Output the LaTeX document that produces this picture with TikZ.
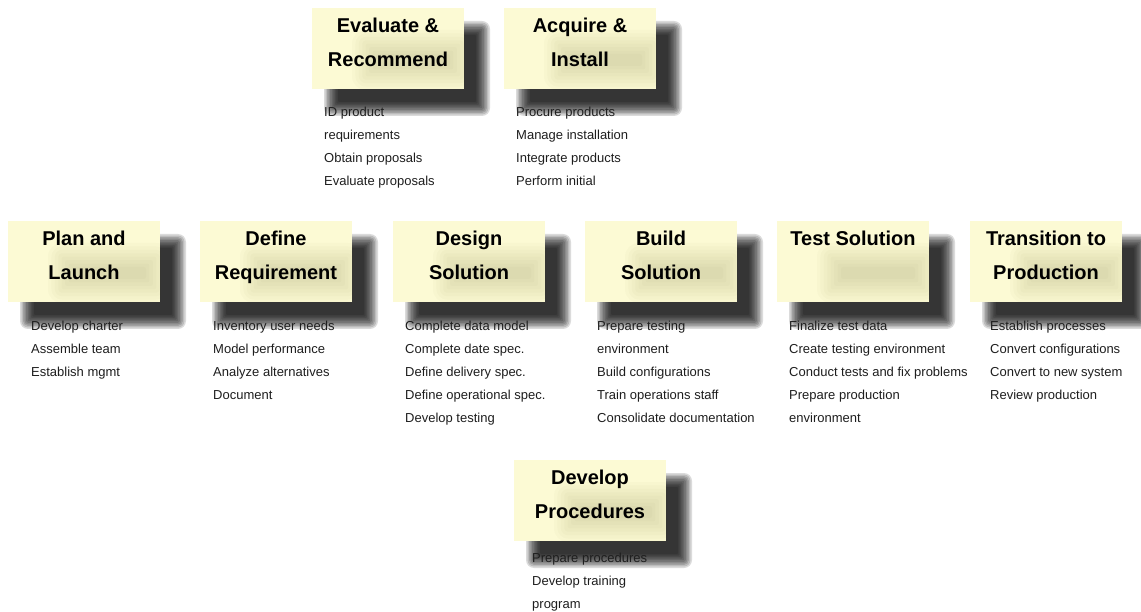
\documentclass[tikz,border=0pt]{standalone}
\usepackage{fontspec}
\setmainfont{Liberation Sans}
\definecolor{boxfill}{HTML}{FCFAD4}
\definecolor{bodytext}{HTML}{1E1E1E}
\definecolor{shadowcol}{HTML}{000000}
\definecolor{smudgecol}{HTML}{6E6E30}
\tikzset{
  phasebox/.style={anchor=north west, minimum width=152pt, minimum height=81pt, inner sep=0pt, fill=boxfill, draw=none},
  shadowlayer/.style={fill=shadowcol, fill opacity=0.14, draw=none},
  smudgelayer/.style={fill=smudgecol, fill opacity=0.028, draw=none},
  phasetitle/.style={anchor=north, inner sep=0pt, align=center, font=\bfseries\fontsize{20}{34}\selectfont, text=black},
  tasklist/.style={anchor=north west, inner sep=0pt, align=left, font=\fontsize{13}{23}\selectfont, text=bodytext},
}
% #1 name, #2 left, #3 top, #4 title, #5 text x, #6 first baseline, #7 lines
\newcommand\drawphase[7]{%
  \begin{scope}
    \clip (#2-6,#3-6) rectangle (#2+181,#3+112);
    \foreach \k in {0,...,9}{%
      \pgfmathsetmacro\e{7-14*\k/9}%
      \pgfmathsetmacro\rc{max(\e,0)+1}%
      \fill[shadowlayer, rounded corners=\rc pt] (#2+19-\e,#3+20-\e) rectangle (#2+171+\e,#3+101+\e);
    }
  \end{scope}
  \node[phasebox] (#1) at (#2,#3) {};
  \begin{scope}
    \clip (#2,#3) rectangle (#2+152,#3+81);
    \foreach \k in {0,...,7}{%
      \pgfmathsetmacro\e{12-24*\k/7}%
      \pgfmathsetmacro\rc{max(\e,0)+2}%
      \fill[smudgelayer, rounded corners=\rc pt] (#2+52-\e,#3+34-\e) rectangle (#2+150+\e,#3+70+\e);
    }
  \end{scope}
  \node[phasetitle] (#1-title) at (#2+76,#3+8) {\rule{0pt}{16pt}#4};
  \node[tasklist] (#1-tasks) at (#5,#6-10) {\rule{0pt}{10pt}#7};
}
\begin{document}
\begin{tikzpicture}[x=1pt,y=-1pt]
\useasboundingbox (0,0) rectangle (1141,612);
\fill[white] (0,0) rectangle (1141,612);
\drawphase{eval}{312}{8}{Evaluate \&\\Recommend}{324}{116}{ID product\\requirements\\Obtain proposals\\Evaluate proposals}
\drawphase{acq}{504}{8}{Acquire \&\\Install}{516}{116}{Procure products\\Manage installation\\Integrate products\\Perform initial}
\drawphase{plan}{8}{221}{Plan and\\Launch}{31}{330}{Develop charter\\Assemble team\\Establish mgmt}
\drawphase{def}{200}{221}{Define\\Requirement}{213}{330}{Inventory user needs\\Model performance\\Analyze alternatives\\Document}
\drawphase{des}{393}{221}{Design\\Solution}{405}{330}{Complete data model\\Complete date spec.\\Define delivery spec.\\Define operational spec.\\Develop testing}
\drawphase{build}{585}{221}{Build\\Solution}{597}{330}{Prepare testing\\environment\\Build configurations\\Train operations staff\\Consolidate documentation}
\drawphase{test}{777}{221}{Test Solution}{789}{330}{Finalize test data\\Create testing environment\\Conduct tests and fix problems\\Prepare production\\environment}
\drawphase{trans}{970}{221}{Transition to\\Production}{990}{330}{Establish processes\\Convert configurations\\Convert to new system\\Review production}
\drawphase{devp}{514}{460}{Develop\\Procedures}{532}{562}{Prepare procedures\\Develop training\\program}
\end{tikzpicture}
\end{document}
